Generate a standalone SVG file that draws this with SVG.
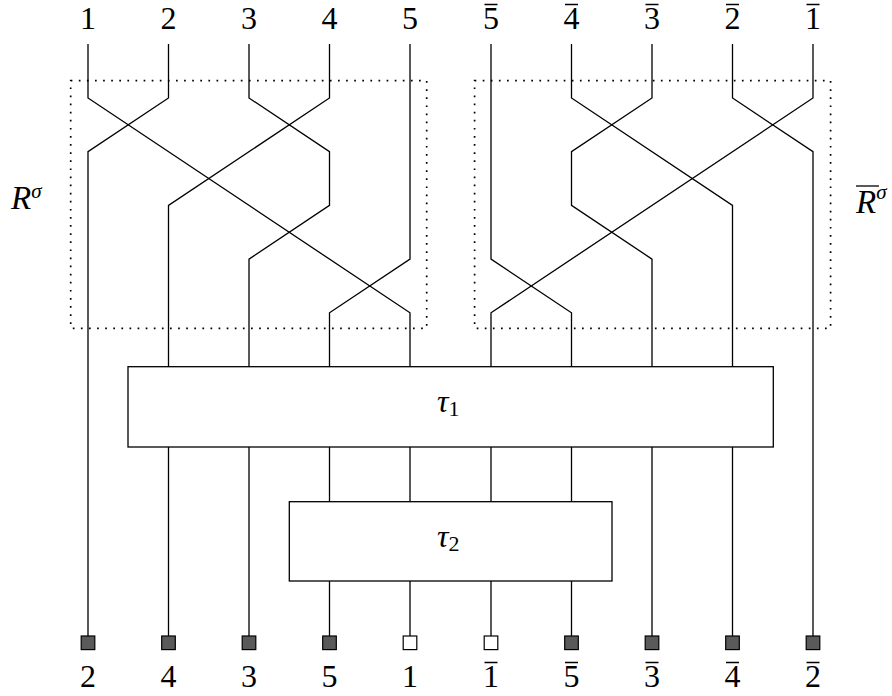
<svg xmlns="http://www.w3.org/2000/svg" width="892" height="696" viewBox="0 0 892 696">
<style>
.w{fill:none;stroke:#000;stroke-width:1.3;stroke-linejoin:miter}
.dot{fill:none;stroke:#000;stroke-width:1.7;stroke-dasharray:1.7 6.4}
.box{fill:#fff;stroke:#000;stroke-width:1.3}
.t{font-family:"Liberation Serif",serif;font-size:32px;text-anchor:middle;fill:#000}
.bar{stroke:#000;stroke-width:1.3}
.it{font-family:"Liberation Serif",serif;font-style:italic;fill:#000}
.sq{fill:#5a5a5a;stroke:#000;stroke-width:1.2}
.sqw{fill:#fff;stroke:#000;stroke-width:1.2}
</style>
<rect width="892" height="696" fill="#fff"/>
<g id="groups">
<rect id="R" class="dot" x="70.7" y="80.7" width="356" height="247.6"/>
<rect id="Rbar" class="dot" x="474.6" y="80.7" width="356" height="247.6"/>
<text class="it" x="11" y="209" font-size="33">R<tspan font-size="21" dy="-11">σ</tspan></text>
<text class="it" x="856" y="213" font-size="33">R<tspan font-size="21" dy="-14">σ</tspan></text>
<line class="bar" x1="856" y1="186" x2="879" y2="186" stroke-width="1.6"/>
</g>
<g id="connectors">
<path class="w" d="M88 44V98L410 312.8V367"/>
<path class="w" d="M168.5 44V98L88 151.7V636"/>
<path class="w" d="M249 44V98L329.5 151.7V205.4L249 259.1V367"/>
<path class="w" d="M329.5 44V98L168.5 205.4V367"/>
<path class="w" d="M410 44V259.1L329.5 312.8V367"/>
<path class="w" d="M491 44V259.1L571.5 312.8V367"/>
<path class="w" d="M571.5 44V98L732.5 205.4V367"/>
<path class="w" d="M652 44V98L571.5 151.7V205.4L652 259.1V367"/>
<path class="w" d="M732.5 44V98L813 151.7V636"/>
<path class="w" d="M813 44V98L491 312.8V367"/>
<path class="w" d="M168.5 447V636M249 447V636M652 447V636M732.5 447V636"/>
<path class="w" d="M329.5 447V501.7M410 447V501.7M491 447V501.7M571.5 447V501.7"/>
<path class="w" d="M329.5 581V636M410 581V636M491 581V636M571.5 581V636"/>
</g>
<g id="tau1">
<rect class="box" x="128" y="366.7" width="645.3" height="80.3"/>
<text class="it" x="437" y="412" font-size="32">τ<tspan font-size="22" dy="4" font-style="normal">1</tspan></text>
</g>
<g id="tau2">
<rect class="box" x="289.3" y="501.7" width="322.7" height="79.3"/>
<text class="it" x="437" y="546.7" font-size="32">τ<tspan font-size="22" dy="4" font-style="normal">2</tspan></text>
</g>
<g id="top-labels">
<text class="t" x="88" y="29">1</text>
<text class="t" x="168.5" y="29">2</text>
<text class="t" x="249" y="29">3</text>
<text class="t" x="329.5" y="29">4</text>
<text class="t" x="410" y="29">5</text>
<text class="t" x="491" y="29">5</text>
<text class="t" x="571.5" y="29">4</text>
<text class="t" x="652" y="29">3</text>
<text class="t" x="732.5" y="29">2</text>
<text class="t" x="813" y="29">1</text>
<path class="bar" d="M484.5 4.5H497.5M565 4.5H578M645.5 4.5H658.5M726 4.5H739M806.5 4.5H819.5"/>
</g>
<g id="outputs">
<rect class="sq" x="81.2" y="636" width="13.6" height="13.6"/>
<rect class="sq" x="161.7" y="636" width="13.6" height="13.6"/>
<rect class="sq" x="242.2" y="636" width="13.6" height="13.6"/>
<rect class="sq" x="322.7" y="636" width="13.6" height="13.6"/>
<rect class="sqw" x="403.2" y="636" width="13.6" height="13.6"/>
<rect class="sqw" x="484.2" y="636" width="13.6" height="13.6"/>
<rect class="sq" x="564.7" y="636" width="13.6" height="13.6"/>
<rect class="sq" x="645.2" y="636" width="13.6" height="13.6"/>
<rect class="sq" x="725.7" y="636" width="13.6" height="13.6"/>
<rect class="sq" x="806.2" y="636" width="13.6" height="13.6"/>
<text class="t" x="88" y="687">2</text>
<text class="t" x="168.5" y="687">4</text>
<text class="t" x="249" y="687">3</text>
<text class="t" x="329.5" y="687">5</text>
<text class="t" x="410" y="687">1</text>
<text class="t" x="491" y="687">1</text>
<text class="t" x="571.5" y="687">5</text>
<text class="t" x="652" y="687">3</text>
<text class="t" x="732.5" y="687">4</text>
<text class="t" x="813" y="687">2</text>
<path class="bar" d="M484.5 662.5H497.5M565 662.5H578M645.5 662.5H658.5M726 662.5H739M806.5 662.5H819.5"/>
</g>
</svg>
